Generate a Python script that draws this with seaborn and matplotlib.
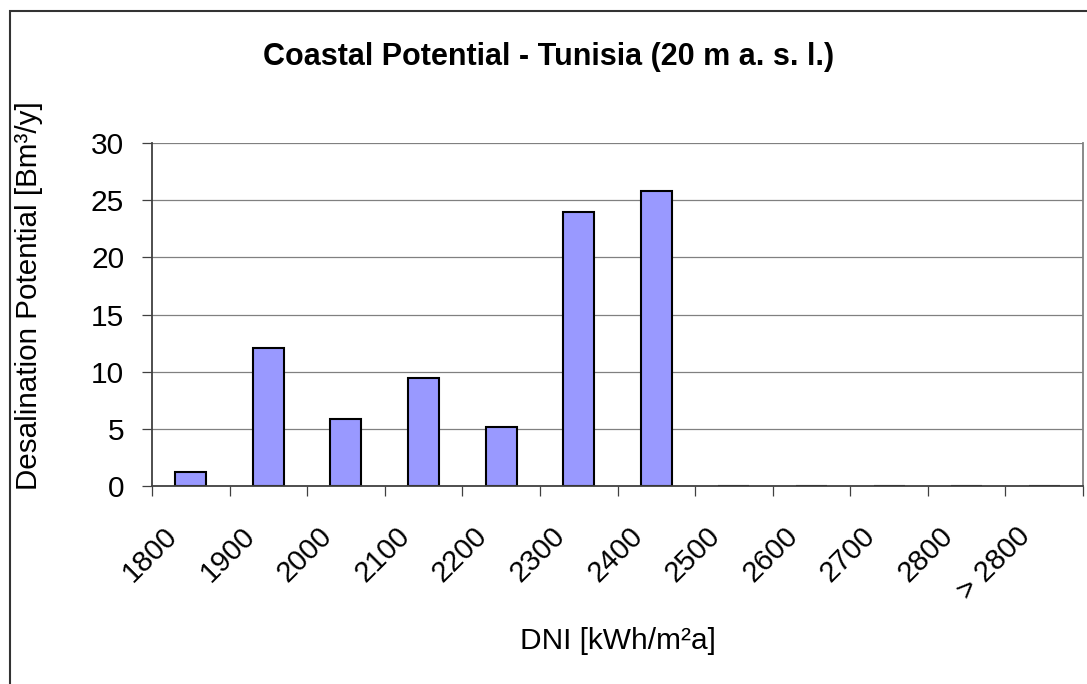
import numpy as np
import pandas as pd
import matplotlib
matplotlib.use('Agg')
import matplotlib.pyplot as plt
import matplotlib.patches as patches
import matplotlib.transforms as mtransforms
from matplotlib.ticker import FixedLocator
import seaborn as sns

# data
dni_classes = ['1800', '1900', '2000', '2100', '2200', '2300', '2400',
               '2500', '2600', '2700', '2800', '> 2800']
potential = [1.2, 12.1, 5.9, 9.45, 5.2, 24.0, 25.8, 0, 0, 0, 0, 0]

df = pd.DataFrame({'DNI': dni_classes, 'Potential': potential})

sns.set_theme(style='white')
plt.rcParams['font.family'] = ['Liberation Sans', 'DejaVu Sans']
plt.rcParams['text.color'] = 'black'
plt.rcParams['xtick.color'] = 'black'
plt.rcParams['ytick.color'] = 'black'
plt.rcParams['axes.labelcolor'] = 'black'

fig = plt.figure(figsize=(10.87, 6.84), dpi=100)
ax = fig.add_axes([152/1087, 1 - 486/684, 931/1087, 343/684])

sns.barplot(data=df, x='DNI', y='Potential', order=dni_classes, color='#9999FF',
            saturation=1, edgecolor='black', linewidth=1.5, width=0.4, ax=ax)

ax.set_xlim(-0.5, len(dni_classes) - 0.5)
ax.set_ylim(0, 30)
ax.set_yticks(range(0, 31, 5))
ax.yaxis.grid(True, color='#808080', linewidth=0.9)
ax.set_axisbelow(True)

# ticks between categories, labels near category centres (excel style)
ax.xaxis.set_minor_locator(FixedLocator(np.arange(-0.5, len(dni_classes), 1)))
ax.tick_params(axis='x', which='major', length=0, pad=22, labelsize=21)
ax.tick_params(axis='x', which='minor', length=7, width=0.9, color='#404040',
               direction='out', bottom=True)
ax.tick_params(axis='y', length=7, width=0.9, color='#404040', direction='out',
               left=True, pad=13, labelsize=21.5)
offset = mtransforms.ScaledTranslation(-18/100, -15/100, fig.dpi_scale_trans)
for lab in ax.get_xticklabels():
    lab.set_rotation(45)
    lab.set_ha('right')
    lab.set_va('center')
    lab.set_rotation_mode('anchor')
    lab.set_transform(lab.get_transform() + offset)

for s in ['left', 'bottom']:
    ax.spines[s].set_color('#404040')
    ax.spines[s].set_linewidth(1.3)
ax.spines['top'].set_visible(False)
ax.spines['right'].set_color('#808080')
ax.spines['right'].set_linewidth(1.3)

ax.set_xlabel('DNI [kWh/m²a]', fontsize=21.5)
ax.set_ylabel('Desalination Potential [Bm³/y]', fontsize=21.3)
ax.xaxis.set_label_coords(0.5, -0.41)
ax.yaxis.set_label_coords(-0.117, 0.554)

fig.text(0.505, 1 - 57/684, 'Coastal Potential - Tunisia (20 m a. s. l.)',
         ha='center', va='center', fontsize=22, fontweight='bold')

# outer chart border (only left and top visible)
fig.patches.append(patches.Rectangle((10/1087, -0.1), 1.2, 1 - 11/684 + 0.1,
                                     transform=fig.transFigure, fill=False,
                                     edgecolor='#333333', linewidth=1.5))

fig.savefig('out.png', dpi=100)
